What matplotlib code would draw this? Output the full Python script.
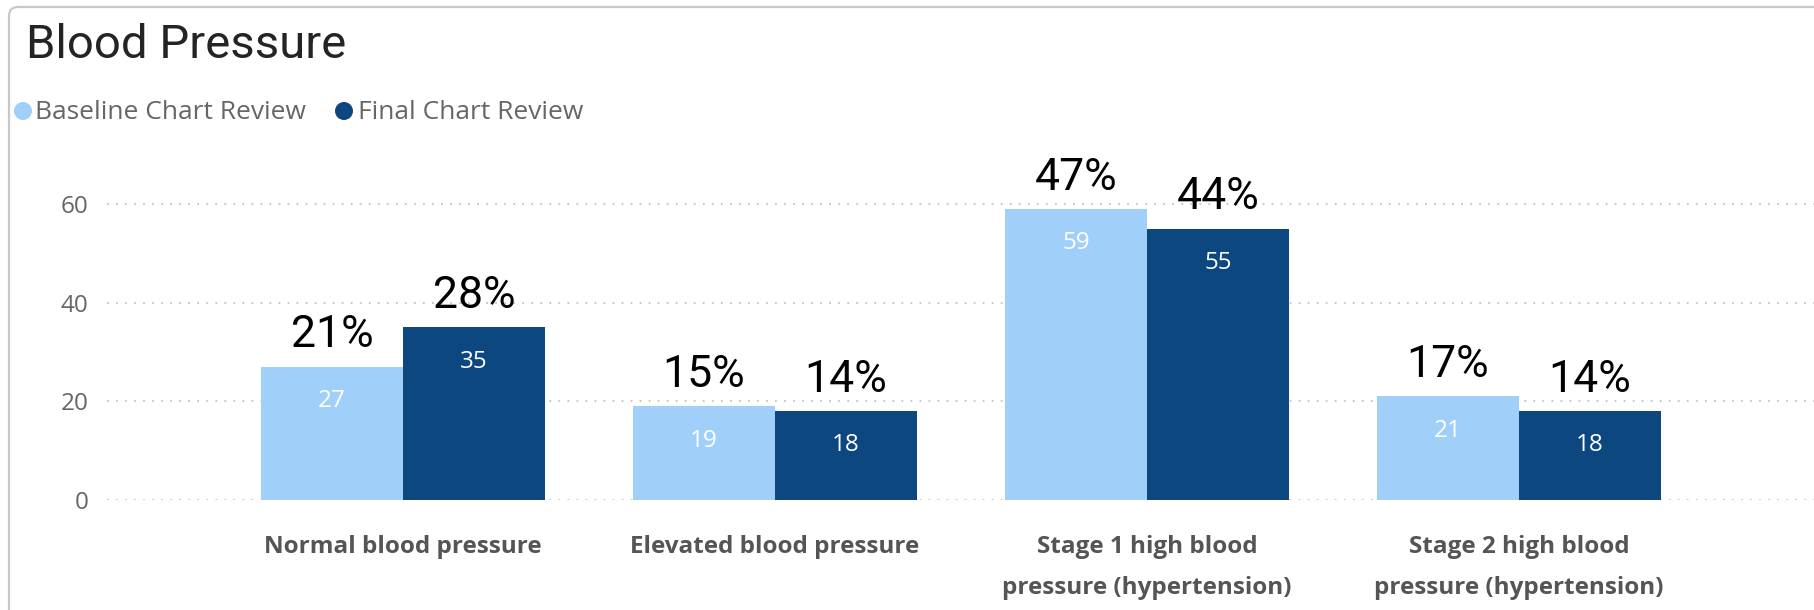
import matplotlib
matplotlib.use("Agg")
import matplotlib.pyplot as plt
import numpy as np
from matplotlib.patches import Circle, FancyBboxPatch
from matplotlib.transforms import IdentityTransform

# ---- data -------------------------------------------------------------
categories = [
    "Normal blood pressure",
    "Elevated blood pressure",
    "Stage 1 high blood\npressure (hypertension)",
    "Stage 2 high blood\npressure (hypertension)",
]
series_names = ["Baseline Chart Review", "Final Chart Review"]
baseline_counts = [27, 19, 59, 21]
final_counts = [35, 18, 55, 18]
baseline_pct = ["21%", "15%", "47%", "17%"]
final_pct = ["28%", "14%", "44%", "14%"]
y_ticks = [0, 20, 40, 60]

# ---- style ------------------------------------------------------------
W, H, DPI = 1814, 610, 100
light = "#A0D0FA"
dark = "#0C4780"
colors = [light, dark]
grey_text = "#666666"

fig = plt.figure(figsize=(W / DPI, H / DPI), dpi=DPI)
fig.patch.set_facecolor("white")

# card outline (open to the right and bottom)
card = FancyBboxPatch((9, -40), 2000, 643, boxstyle="round,pad=0,rounding_size=9",
                      transform=IdentityTransform(), facecolor="none",
                      edgecolor="#C8C8C8", linewidth=1.6)
fig.add_artist(card)

# title
fig.text(26 / W, (H - 58) / H, "Blood Pressure", fontsize=34, family="Roboto",
         color="#252423", ha="left", va="baseline")

# legend
legend_x = [(23, 35), (344, 358)]
for (cx, tx), name, c in zip(legend_x, series_names, colors):
    fig.add_artist(Circle((cx, H - 111), 9, transform=IdentityTransform(),
                          facecolor=c, edgecolor="none"))
    fig.text(tx / W, (H - 119) / H, name, fontsize=19, family="Open Sans",
             color=grey_text, ha="left", va="baseline")

# ---- axes -------------------------------------------------------------
ax_left, ax_bottom = 107, 110
px_per_unit_y = 4.933
y_top = 68
ax_h = y_top * px_per_unit_y
ax = fig.add_axes([ax_left / W, ax_bottom / H, (W - ax_left) / W, ax_h / H])

spacing_px = 372.0
first_center_px = 403.0
x0 = (ax_left - first_center_px) / spacing_px
x1 = (W - first_center_px) / spacing_px

x = np.arange(len(categories))
bw = 0.382
bars_b = ax.bar(x - bw / 2, baseline_counts, bw, color=light, zorder=2)
bars_f = ax.bar(x + bw / 2, final_counts, bw, color=dark, zorder=2)

ax.set_xlim(x0, x1)
ax.set_ylim(0, y_top)
ax.set_yticks(y_ticks)
for yv in y_ticks:
    ax.axhline(yv, color="#C4C4C4", linewidth=1.3, linestyle=(0, (1, 4)), zorder=1)

for s in ax.spines.values():
    s.set_visible(False)
ax.tick_params(axis="y", length=0, pad=13.5, labelsize=17.5, labelcolor=grey_text)
ax.tick_params(axis="x", length=0, pad=25)
ax.set_xticks(x)
ax.set_xticklabels(categories, fontsize=17.5, fontweight="bold", family="Open Sans",
                   color="#555555", linespacing=1.95, va="top")
for lbl in ax.get_yticklabels():
    lbl.set_family("Open Sans")
ax.set_facecolor("none")

# values inside the bars and percentages above them
for bars, vals, pcts in [(bars_b, baseline_counts, baseline_pct),
                         (bars_f, final_counts, final_pct)]:
    for b, v, p in zip(bars, vals, pcts):
        cx = b.get_x() + b.get_width() / 2
        ax.annotate(str(v), (cx, v), xytext=(0, -29), textcoords="offset points",
                    ha="center", va="baseline", fontsize=17.5, family="Open Sans",
                    color="white", zorder=3)
        ax.annotate(p, (cx, v), xytext=(0, 14), textcoords="offset points",
                    ha="center", va="baseline", fontsize=32, family="Roboto",
                    color="black", zorder=3)

fig.savefig("out.png", dpi=DPI, facecolor="white")
